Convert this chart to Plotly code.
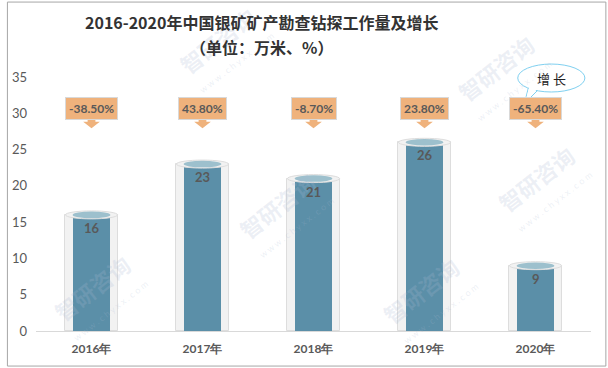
import plotly.graph_objects as go

categories = ["2016年", "2017年", "2018年", "2019年", "2020年"]
volume = [16, 23, 21, 26, 9]
growth = ["-38.50%", "43.80%", "-8.70%", "23.80%", "-65.40%"]
y_ticks = [0, 5, 10, 15, 20, 25, 30, 35]

xs = list(range(len(categories)))
GRAY = "#595959"
BG_W, FG_W = 0.47, 0.34
BOX_Y = 30.65

fig = go.Figure()
fig.add_trace(go.Bar(x=xs, y=volume, width=BG_W, marker=dict(color="#F2F2F2", line=dict(color="#DDDDDD", width=1)),
                     hoverinfo="skip", showlegend=False))
fig.add_trace(go.Bar(x=xs, y=volume, width=FG_W, marker=dict(color="#5B8FA8", line=dict(width=0)),
                     showlegend=False))

shapes = []
annotations = []

# watermarks (drawn first so they sit under the other texts)
wm_color = "rgba(170,185,210,0.22)"
for (px, py) in [(0.327, 1.146), (0.828, 1.035), (0.10, 0.17), (0.435, 0.496), (0.90, 0.60), (0.694, 0.16)]:
    annotations.append(dict(x=px, y=py, xref="paper", yref="paper", text="智研咨询", showarrow=False, textangle=-38,
                            xanchor="center", yanchor="middle",
                            font=dict(size=22, color=wm_color, family="Noto Sans CJK SC", weight="bold")))
    annotations.append(dict(x=px + 0.035, y=py - 0.09, xref="paper", yref="paper", text="w w w . c h y x x . c o m",
                            showarrow=False, textangle=-38, xanchor="center", yanchor="middle",
                            font=dict(size=9, color=wm_color, family="Lato")))

for i, v in enumerate(volume):
    # cylinder tops
    shapes.append(dict(type="circle", xref="x", yref="y", x0=i - BG_W / 2, x1=i + BG_W / 2, y0=v - 0.55, y1=v + 0.55,
                       fillcolor="#F2F2F2", line=dict(color="#DDDDDD", width=1)))
    shapes.append(dict(type="circle", xref="x", yref="y", x0=i - FG_W / 2, x1=i + FG_W / 2, y0=v - 0.45, y1=v + 0.45,
                       fillcolor="#9DC0CD", line=dict(width=0)))
    # value label
    annotations.append(dict(x=i, y=v, xref="x", yref="y", text=str(v), showarrow=False, yshift=-13,
                            xanchor="center", yanchor="middle",
                            font=dict(size=13, color=GRAY, family="Lato", weight="bold")))
    # growth callout box
    annotations.append(dict(x=i, y=BOX_Y, xref="x", yref="y", text=growth[i], showarrow=False,
                            xanchor="center", yanchor="middle",
                            bgcolor="#EFB27C", bordercolor="#D9D9D9", borderwidth=1, borderpad=3,
                            font=dict(size=12, color=GRAY, family="Lato", weight="bold")))
    # arrow under the box
    ys, yh, yt = 29.35, 28.85, 27.95
    path = (f"M {i-0.035},{ys} L {i+0.035},{ys} L {i+0.035},{yh} L {i+0.075},{yh} "
            f"L {i},{yt} L {i-0.075},{yh} L {i-0.035},{yh} Z")
    shapes.append(dict(type="path", xref="x", yref="y", path=path, fillcolor="#EFB27C", line=dict(width=0)))

# speech bubble "增长"
shapes.append(dict(type="path", xref="paper", yref="paper",
                   path="M 0.888,0.965 L 0.880,0.895 L 0.905,0.950 Z",
                   fillcolor="white", line=dict(color="#7FD0F0", width=1)))
shapes.append(dict(type="circle", xref="paper", yref="paper", x0=0.868, x1=0.989, y0=0.941, y1=1.051,
                   fillcolor="white", line=dict(color="#7FD0F0", width=1)))
shapes.append(dict(type="path", xref="paper", yref="paper",
                   path="M 0.889,0.962 L 0.881,0.898 L 0.903,0.953 Z",
                   fillcolor="white", line=dict(width=0)))
annotations.append(dict(x=0.928, y=0.996, xref="paper", yref="paper", text="增 长", showarrow=False,
                        xanchor="center", yanchor="middle",
                        font=dict(size=13, color="#222222", family="Noto Sans CJK SC")))

# title
annotations.append(dict(x=0.407, y=1.217, xref="paper", yref="paper", text="2016-2020年中国银矿矿产勘查钻探工作量及增长",
                        showarrow=False, xanchor="center", yanchor="middle",
                        font=dict(size=16, color="#333333", family="Noto Sans CJK SC", weight="bold")))
annotations.append(dict(x=0.407, y=1.118, xref="paper", yref="paper", text="（单位：万米、%）",
                        showarrow=False, xanchor="center", yanchor="middle",
                        font=dict(size=16, color="#333333", family="Noto Sans CJK SC", weight="bold")))

# outer border
shapes.append(dict(type="rect", xref="paper", yref="paper", x0=-0.0515, x1=1.0268, y0=-0.138, y1=1.295,
                   line=dict(color="#A6A6A6", width=1), fillcolor="rgba(0,0,0,0)", layer="below"))

fig.update_layout(
    width=608, height=368, margin=dict(l=32, r=17, t=77, b=37),
    paper_bgcolor="white", plot_bgcolor="white", barmode="overlay", bargap=0,
    shapes=shapes, annotations=annotations,
    xaxis=dict(tickvals=xs, ticktext=categories, range=[-0.5, 4.5], showline=True, linecolor="#D9D9D9",
               showgrid=False, zeroline=False, ticks="", ticklabelstandoff=7,
               tickfont=dict(size=12, color=GRAY, family="Lato", weight="bold")),
    yaxis=dict(range=[0, 35], tickvals=y_ticks, showgrid=False, zeroline=False, showline=False, ticks="",
               ticklabelstandoff=8,
               tickfont=dict(size=13, color=GRAY, family="Lato")),
)

fig.write_html("out.html")
